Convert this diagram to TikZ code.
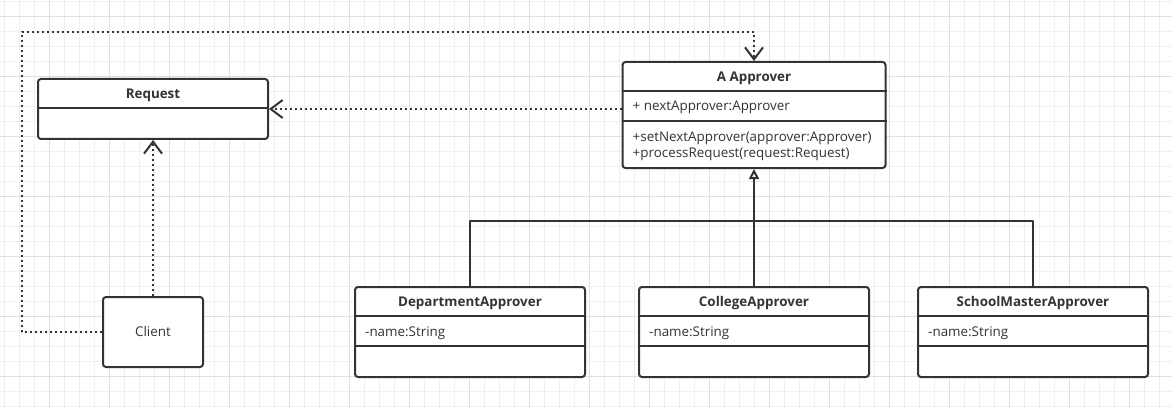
\documentclass[tikz,border=0pt]{standalone}
\usepackage{fontspec}
\setmainfont{Open Sans}
\usetikzlibrary{arrows.meta,calc}
\definecolor{ink}{HTML}{333333}
\definecolor{gridminor}{HTML}{F0F0F0}
\definecolor{gridmajor}{HTML}{E0E0E0}
\tikzset{
  classbox/.style={draw=ink,line width=2pt,rounded corners=3pt,fill=white,inner sep=0pt},
  classtitle/.style={font=\fontsize{13.4}{16}\selectfont\bfseries,text=ink,inner sep=0pt,anchor=base},
  member/.style={font=\fontsize{13.4}{16}\selectfont,text=ink,anchor=base west,align=left,inner sep=0pt},
  divider/.style={draw=ink,line width=2pt,line cap=butt},
  dep/.style={draw=ink,line width=2pt,line cap=butt,dash pattern=on 2pt off 3pt,
    -{Straight Barb[length=12pt,width=18pt]}},
  inherit/.style={draw=ink,line width=2pt,line cap=butt,-{Triangle[open,length=10pt,width=10pt]}},
  link/.style={draw=ink,line width=2pt,line cap=butt}
}

\begin{document}
\begin{tikzpicture}[line cap=round,line join=round,x=1pt,y=-1pt]
    \useasboundingbox (0,0) rectangle (1172,409);
    \fill[white] (0,0) rectangle (1172,409);
    % background grid
    \foreach \x in {4.5,19.5,...,1172} \draw[gridminor,line width=1pt] (\x,0) -- (\x,409);
    \foreach \y in {1.5,16.5,...,409} \draw[gridminor,line width=1pt] (0,\y) -- (1172,\y);
    \foreach \x in {49.5,109.5,...,1172} \draw[gridmajor,line width=1pt] (\x,0) -- (\x,409);
    \foreach \y in {16.5,76.5,...,409} \draw[gridmajor,line width=1pt] (0,\y) -- (1172,\y);

    % Request
    \node[classbox,minimum width=230pt,minimum height=60pt] (request) at (153,109) {};
    \draw[divider] ($(request.north west)+(0,30)$) -- ($(request.north east)+(0,30)$);
    \node[classtitle] (requesttitle) at ($(request.north)+(0,20.5)$) {Request};

    % A Approver
    \node[classbox,minimum width=263pt,minimum height=106pt] (approver) at (754,115) {};
    \draw[divider] ($(approver.north west)+(0,30)$) -- ($(approver.north east)+(0,30)$);
    \draw[divider] ($(approver.north west)+(0,60)$) -- ($(approver.north east)+(0,60)$);
    \node[classtitle] (approvertitle) at ($(approver.north)+(0,20.5)$) {A Approver};
    \node[member] (approverattr) at ($(approver.north west)+(11,50)$) {+ nextApprover:Approver};
    \node[member] (approverset) at ($(approver.north west)+(11,80.5)$) {+setNextApprover(approver:Approver)};
    \node[member] (approverproc) at ($(approver.north west)+(11,96.5)$) {+processRequest(request:Request)};

    % Client
    \node[classbox,minimum width=100pt,minimum height=70pt] (client) at (153,332) {};
    \node[classtitle,font=\fontsize{13.4}{16}\selectfont] (clienttext) at ($(client.north)+(0,40.5)$) {Client};

    % concrete approvers
    \foreach \cname/\cx/\ctitle in {dept/470/DepartmentApprover,college/754/CollegeApprover,school/1033/SchoolMasterApprover} {
        \node[classbox,minimum width=230pt,minimum height=90pt] (\cname) at (\cx,332) {};
        \draw[divider] ($(\cname.north west)+(0,30)$) -- ($(\cname.north east)+(0,30)$);
        \draw[divider] ($(\cname.north west)+(0,60)$) -- ($(\cname.north east)+(0,60)$);
        \node[classtitle] (\cname title) at ($(\cname.north)+(0,20.5)$) {\ctitle};
        \node[member] (\cname attr) at ($(\cname.north west)+(11,50.5)$) {-name:String};
    }

    % connectors
    \coordinate (bus) at (0,221);
    \coordinate (loopcorner) at (22,32);
    \draw[link] (dept.north) -- (dept.north |- bus) -- (school.north |- bus) -- (school.north);
    \draw[inherit] (college.north) -- (approver.south);
    \draw[dep] (client.north) -- (request.south);
    \draw[dep] (approver.west |- request.east) -- (request.east);
    \draw[dep] (client.west) -| (loopcorner) -| (approver.north);
\end{tikzpicture}
\end{document}
